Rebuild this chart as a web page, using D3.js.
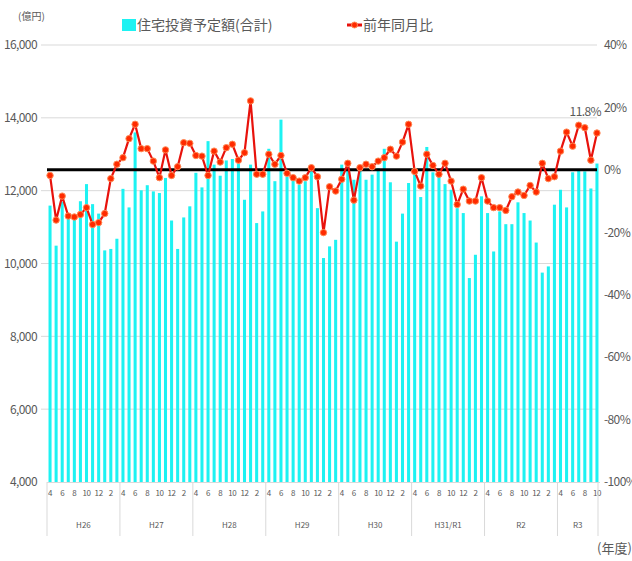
<!DOCTYPE html>
<html>
<head>
<meta charset="utf-8">
<script src="https://cdn.jsdelivr.net/npm/d3@7"></script>
<style>
  body { margin: 0; background: #fff; }
  text { font-family: "Noto Sans CJK JP", "Noto Sans", sans-serif; fill: #595959; }
</style>
</head>
<body>
<svg id="chart"></svg>
<script>

// Fiscal years and months shown on the x-axis
var fiscalYears = ["H26", "H27", "H28", "H29", "H30", "H31/R1", "R2", "R3"];
var fiscalMonths = [4, 5, 6, 7, 8, 9, 10, 11, 12, 1, 2, 3];
var monthsInYear = [12, 12, 12, 12, 12, 12, 12, 7];

// Housing investment plan (total), 100 million yen
var investment = [
  11590, 10490, 11700, 11300, 11250, 11710, 12180, 11630, 11370, 10360, 10400, 10680,
  12050, 11540, 13600, 12010, 12150, 11980, 11935, 12350, 11180, 10400, 11265, 11570,
  12490, 12090, 13360, 12715, 12410, 12830, 12870, 12745, 11750, 12715, 11110, 11430,
  13150, 12260, 13950, 12375, 12400, 12165, 12260, 12530, 11520, 10150, 10470, 10650,
  12715, 12670, 12300, 12580, 12300, 12440, 12620, 13150, 12230, 10600, 11370, 12210,
  12530, 11825, 13200, 12505, 12375, 12180, 12025, 11520, 11385, 9600, 10240, 11845,
  11385, 10330, 11430, 11080, 11080, 11680, 11385, 11180, 10575, 9750, 9920, 11615,
  12025, 11540, 12505, 12580, 12530, 12060, 12745
];

// Year-on-year change, %
var yoy = [
  -1.8, -16.1, -8.4, -14.8, -15.1, -14.3, -12.1, -17.5, -16.9, -14.0, -2.8, 1.8,
  3.9, 10.0, 14.6, 6.8, 6.8, 2.8, -2.5, 6.4, -1.8, 1.0, 8.7, 8.5,
  4.6, 4.4, -1.8, 6.0, 2.5, 7.1, 8.2, 3.1, 5.5, 22.1, -1.4, -1.4,
  5.0, 1.8, 4.6, -1.1, -2.5, -3.6, -2.5, 0.7, -2.2, -20.1, -5.4, -6.8,
  -3.0, 2.1, -9.7, 0.7, 1.8, 1.0, 2.8, 3.9, 6.6, 4.4, 8.9, 14.6,
  -0.5, -5.2, 5.0, 1.4, -1.4, 2.1, -3.6, -11.1, -6.2, -10.0, -10.0, -2.5,
  -10.0, -12.1, -12.1, -13.0, -8.6, -7.1, -8.2, -5.0, -7.1, 2.1, -2.8, -2.2,
  6.0, 12.1, 7.6, 14.3, 13.5, 3.1, 11.8
];

var leftTicks = [4000, 6000, 8000, 10000, 12000, 14000, 16000];
var rightTicks = [-100, -80, -60, -40, -20, 0, 20, 40];
var monthTickLabels = [4, 6, 8, 10, 12, 2];

var width = 632;
var height = 561;
var plotLeft = 47, plotRight = 600, plotTop = 45, plotBottom = 482;

// Build the list of months (one entry for every bar)
var months = [];
fiscalYears.forEach(function(fy, i){
  for (var m = 0; m < monthsInYear[i]; m++){
    months.push({year: fy, month: fiscalMonths[m], index: months.length});
  }
});
months.forEach(function(d, i){
  d.value = investment[i];
  d.pct = yoy[i];
});

var svg = d3.select("#chart")
  .attr("width", width)
  .attr("height", height);

var xScale = d3.scaleBand()
  .domain(months.map(function(d){ return d.index; }))
  .range([plotLeft, plotRight])
  .paddingInner(0.5)
  .paddingOuter(0.25);

var yLeft = d3.scaleLinear()
  .domain([4000, 16000])
  .range([plotBottom, plotTop]);

var yRight = d3.scaleLinear()
  .domain([-100, 40])
  .range([plotBottom, plotTop]);

// Gridlines
svg.append("g")
  .selectAll("line")
  .data(leftTicks.slice(1))
  .enter()
  .append("line")
  .attr("x1", plotLeft - 6)
  .attr("x2", plotRight - 3)
  .attr("y1", function(d){ return yLeft(d); })
  .attr("y2", function(d){ return yLeft(d); })
  .attr("stroke", "#d9d9d9")
  .attr("stroke-width", 1);

// Bars
svg.append("g")
  .selectAll("rect")
  .data(months)
  .enter()
  .append("rect")
  .attr("x", function(d){ return xScale(d.index); })
  .attr("width", xScale.bandwidth())
  .attr("y", function(d){ return yLeft(d.value); })
  .attr("height", function(d){ return plotBottom - yLeft(d.value); })
  .attr("fill", "#1df2f2");

// Left axis labels
var leftAxis = svg.append("g")
  .attr("transform", "translate(" + (plotLeft - 10) + ",0)")
  .call(d3.axisLeft(yLeft).tickValues(leftTicks).tickSize(0).tickFormat(d3.format(",")));
leftAxis.select(".domain").remove();
leftAxis.selectAll("text")
  .attr("x", 0)
  .style("font-size", "12px")
  .style("fill", "#595959")
  .style("font-family", "'Noto Sans CJK JP', sans-serif")
  .style("letter-spacing", "-0.6px");

// Right axis labels
var rightAxis = svg.append("g")
  .attr("transform", "translate(" + (plotRight + 4) + ",0)")
  .call(d3.axisRight(yRight).tickValues(rightTicks).tickSize(0).tickFormat(function(d){ return d + "%"; }));
rightAxis.select(".domain").remove();
rightAxis.selectAll("text")
  .attr("x", 0)
  .style("font-size", "12px")
  .style("fill", "#595959")
  .style("font-family", "'Noto Sans CJK JP', sans-serif")
  .style("letter-spacing", "-0.6px");

// Bottom axis line
svg.append("line")
  .attr("x1", plotLeft)
  .attr("x2", plotRight)
  .attr("y1", plotBottom + 0.5)
  .attr("y2", plotBottom + 0.5)
  .attr("stroke", "#d9d9d9");

// Month tick labels
svg.append("g")
  .selectAll("text")
  .data(months.filter(function(d){ return monthTickLabels.indexOf(d.month) >= 0; }))
  .enter()
  .append("text")
  .attr("x", function(d){ return xScale(d.index) + xScale.bandwidth() / 2; })
  .attr("y", plotBottom + 14)
  .attr("text-anchor", "middle")
  .style("font-size", "8px")
  .style("letter-spacing", "-0.4px")
  .text(function(d){ return d.month; });

// Fiscal year separators and labels
var yearStarts = [];
months.forEach(function(d){ if (d.month == 4) yearStarts.push(d.index); });
var step = xScale.step();
var boundaries = yearStarts.map(function(i){ return xScale(i) - step * 0.25; });
boundaries.push(plotRight - 2);

svg.append("g")
  .selectAll("line")
  .data(boundaries)
  .enter()
  .append("line")
  .attr("x1", function(d){ return d; })
  .attr("x2", function(d){ return d; })
  .attr("y1", plotBottom)
  .attr("y2", plotBottom + 54)
  .attr("stroke", "#d9d9d9");

svg.append("g")
  .selectAll("text")
  .data(fiscalYears)
  .enter()
  .append("text")
  .attr("x", function(d, i){ return (boundaries[i] + boundaries[i + 1]) / 2; })
  .attr("y", plotBottom + 46)
  .attr("text-anchor", "middle")
  .style("font-size", "8px")
  .text(function(d){ return d; });

// Zero line for the percentage axis
svg.append("line")
  .attr("x1", plotLeft)
  .attr("x2", plotRight - 3)
  .attr("y1", yRight(0))
  .attr("y2", yRight(0))
  .attr("stroke", "#000")
  .attr("stroke-width", 3);

// Year-on-year line
var line = d3.line()
  .x(function(d){ return xScale(d.index) + xScale.bandwidth() / 2; })
  .y(function(d){ return yRight(d.pct); });

svg.append("path")
  .datum(months)
  .attr("fill", "none")
  .attr("stroke", "#e8120c")
  .attr("stroke-width", 2.2)
  .attr("stroke-linejoin", "round")
  .attr("d", line);

svg.append("g")
  .selectAll("circle")
  .data(months)
  .enter()
  .append("circle")
  .attr("cx", function(d){ return xScale(d.index) + xScale.bandwidth() / 2; })
  .attr("cy", function(d){ return yRight(d.pct); })
  .attr("r", 3.2)
  .attr("fill", "#ff2a00")
  .attr("stroke", "#ff8a55")
  .attr("stroke-width", 1);

// Label for the latest value
var last = months[months.length - 1];
svg.append("text")
  .attr("x", xScale(last.index) + xScale.bandwidth() / 2 + 4)
  .attr("y", yRight(last.pct) - 17)
  .attr("text-anchor", "end")
  .style("font-size", "12px")
  .style("letter-spacing", "-0.6px")
  .text(last.pct.toFixed(1) + "%");

// Unit labels
svg.append("text")
  .attr("x", 18)
  .attr("y", 20)
  .style("font-size", "10px")
  .text("(億円)");

svg.append("text")
  .attr("x", 597)
  .attr("y", 553)
  .style("font-size", "13px")
  .text("(年度)");

// Legend
svg.append("rect")
  .attr("x", 122)
  .attr("y", 19)
  .attr("width", 14)
  .attr("height", 12)
  .attr("fill", "#1df2f2");

svg.append("text")
  .attr("x", 137)
  .attr("y", 30)
  .style("font-size", "14px")
  .text("住宅投資予定額(合計)");

svg.append("line")
  .attr("x1", 347)
  .attr("x2", 362)
  .attr("y1", 25)
  .attr("y2", 25)
  .attr("stroke", "#e8120c")
  .attr("stroke-width", 3);

svg.append("circle")
  .attr("cx", 354.5)
  .attr("cy", 25)
  .attr("r", 3)
  .attr("fill", "#ff2a00")
  .attr("stroke", "#ff8a55");

svg.append("text")
  .attr("x", 363)
  .attr("y", 30)
  .style("font-size", "14px")
  .text("前年同月比");

</script>
</body>
</html>
